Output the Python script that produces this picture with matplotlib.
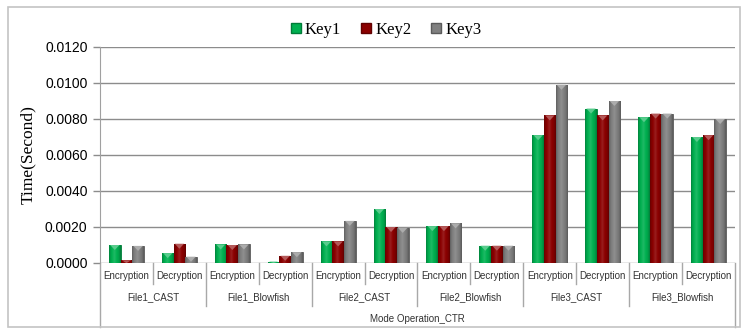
import numpy as np
import matplotlib
matplotlib.use("Agg")
import matplotlib.pyplot as plt
from matplotlib.patches import Rectangle, Polygon
from matplotlib.transforms import blended_transform_factory
from matplotlib.colors import to_rgb

# Timing results (seconds), CTR mode
files = ["File1_CAST", "File1_Blowfish", "File2_CAST", "File2_Blowfish", "File3_CAST", "File3_Blowfish"]
ops = ["Encryption", "Decryption"]
key1 = [0.0010, 0.00055, 0.00103, 0.00008, 0.0012, 0.0030, 0.00205, 0.00096, 0.0071, 0.00858, 0.0081, 0.0070]
key2 = [0.00015, 0.00107, 0.0010, 0.0004, 0.0012, 0.0020, 0.00205, 0.00096, 0.0082, 0.0082, 0.0083, 0.0071]
key3 = [0.00095, 0.00035, 0.00103, 0.0006, 0.00234, 0.00195, 0.0022, 0.00096, 0.0099, 0.0090, 0.0083, 0.0080]
series = ["Key1", "Key2", "Key3"]
colors = ["#00b050", "#8b0000", "#808080"]

W, H = 743, 329
fig = plt.figure(figsize=(W / 100, H / 100), dpi=100)

def fy(py):
    return 1 - py / H

# outer chart frame
fig.patches.append(Rectangle((8 / W, fy(327)), 732 / W, (327 - 7) / H, transform=fig.transFigure,
                             fill=False, edgecolor="#c4c4c4", linewidth=1.2))

ax = fig.add_axes([100 / W, fy(263), 635 / W, (263 - 47) / H])
ax.set_xlim(-0.5, 11.5)
ax.set_ylim(0, 0.012)
ax.set_yticks(np.arange(0, 0.0121, 0.002))
ax.set_yticklabels([f"{v:.4f}" for v in np.arange(0, 0.0121, 0.002)],
                   fontfamily="Liberation Sans", fontsize=10)
ax.tick_params(axis="y", length=5, color="#8c8c8c", width=1, pad=4)
ax.set_xticks([])
ax.grid(axis="y", color="#8c8c8c", linewidth=1)
ax.set_axisbelow(True)
for s in ["top", "right", "bottom"]:
    ax.spines[s].set_visible(False)
ax.spines["left"].set_color("#a0a0a0")

ax.set_ylabel("Time(Second)", fontfamily="Liberation Serif", fontsize=12.5)
ax.yaxis.set_label_coords((36 - 100) / 635, 0.5)

x = np.arange(12)
bw = 0.22
px_y = 0.012 / 216  # data units per pixel vertically


def shade(c, f):
    r = np.array(to_rgb(c))
    return np.clip(r * f, 0, 1) if f < 1 else r + (1 - r) * (f - 1)


handles = []
for i, (vals, c) in enumerate(zip([key1, key2, key3], colors)):
    bars = ax.bar(x + (i - 1) * bw, vals, bw, color=c, edgecolor=shade(c, 0.7), linewidth=0.6,
                  label=series[i], zorder=2)
    handles.append(bars)
    # horizontal shading across each bar
    grad = np.linspace(0, 1, 40)
    prof = np.interp(grad, [0, 0.15, 0.45, 0.85, 1], [0.75, 0.95, 1.12, 0.9, 0.7])
    img = np.array([[shade(c, p) for p in prof]])
    for b in bars:
        x0, w, h = b.get_x(), b.get_width(), b.get_height()
        im = ax.imshow(img, extent=[x0, x0 + w, 0, h], aspect="auto", zorder=2.5, interpolation="bilinear")
        im.set_clip_path(b)
        th = min(5 * px_y, h)
        ax.add_patch(Polygon([[x0 + 0.1 * w, h], [x0 + 0.9 * w, h], [x0 + 0.5 * w, h - th]],
                             closed=True, facecolor=shade(c, 1.35), edgecolor="none", zorder=3))
    ax.set_xlim(-0.5, 11.5)
    ax.set_ylim(0, 0.012)

# category table under the axis
tr = blended_transform_factory(ax.transData, fig.transFigure)
lc = "#a8a8a8"
for k in range(11):
    bottom = 284 if k % 2 == 0 else 306
    ax.plot([k + 0.5, k + 0.5], [fy(263), fy(bottom)], transform=tr, color=lc, lw=1, clip_on=False)
ax.plot([11.5, 11.5], [fy(263), fy(327)], transform=tr, color=lc, lw=1, clip_on=False)
ax.plot([-0.5, -0.5], [fy(263), fy(327)], transform=tr, color=lc, lw=1, clip_on=False)

for g in range(12):
    ax.text(g, fy(276), ops[g % 2], transform=tr, ha="center", va="center",
            fontfamily="Liberation Sans", fontsize=7, color="#333333")
for j, f in enumerate(files):
    ax.text(2 * j + 0.5, fy(297), f, transform=tr, ha="center", va="center",
            fontfamily="Liberation Sans", fontsize=7, color="#333333")
ax.text(5.5, fy(319), "Mode Operation_CTR", transform=tr, ha="center", va="center",
        fontfamily="Liberation Sans", fontsize=7, color="#333333")

leg = fig.legend(handles=[Rectangle((0, 0), 1, 1, facecolor=c, edgecolor=shade(c, 0.7)) for c in colors],
                 labels=series, loc="center", bbox_to_anchor=(386 / W, fy(30)), ncol=3, frameon=False,
                 prop={"family": "Liberation Serif", "size": 12}, handlelength=0.6, handleheight=0.6,
                 handletextpad=0.25, columnspacing=1.2)

fig.savefig("out.png", dpi=100)
